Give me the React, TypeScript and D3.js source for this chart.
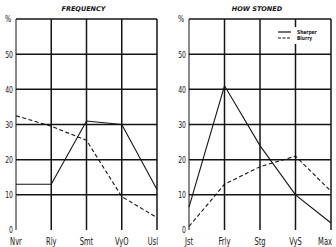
import React from "react";
import * as d3 from "d3";

const freqCats = ["Nvr", "Rly", "Smt", "VyO", "Usl"];
const freqSharper = [13, 13, 31, 30, 11.5];
const freqBlurry = [32.5, 29.5, 25.5, 9.5, 3.5];

const stonedCats = ["Jst", "Frly", "Stg", "VyS", "Max"];
const stonedSharper = [6.5, 41, 24, 10, 2];
const stonedBlurry = [1, 13, 18, 21, 11];

const yTicks = [0, 10, 20, 30, 40, 50];
const gridVals = [10, 20, 30, 40, 50, 60];

const FONT = "'DejaVu Sans Condensed', 'DejaVu Sans', sans-serif";
const INK = "#141414";

type PanelProps = {
  title: string;
  cats: string[];
  sharper: number[];
  blurry: number[];
  x0: number;
  x1: number;
  legend?: boolean;
};

const y = d3.scaleLinear().domain([0, 60]).range([230, 19]);

function NText({ x, yy, anchor, children, size = 10, sx = 0.72, weight = "normal", family = FONT }: any) {
  return (
    <text
      transform={`translate(${x},${yy}) scale(${sx},1)`}
      textAnchor={anchor}
      fontFamily={family}
      fontSize={size}
      fontWeight={weight}
      fill={INK}
    >
      {children}
    </text>
  );
}

function Panel({ title, cats, sharper, blurry, x0, x1, legend }: PanelProps) {
  const x = d3.scalePoint<string>().domain(cats).range([x0, x1]);
  const line = d3
    .line<number>()
    .x((_, i) => x(cats[i]) as number)
    .y((d) => y(d));
  const mid = (x0 + x1) / 2;
  return (
    <g>
      <text
        x={mid - 3}
        y={11}
        textAnchor="middle"
        fontFamily="'DejaVu Sans', sans-serif"
        fontSize={6.5}
        fontWeight="bold"
        fontStyle="italic"
        fill={INK}
      >
        {title}
      </text>
      {gridVals.map((v) => (
        <line
          key={"h" + v}
          x1={x0}
          x2={x1}
          y1={y(v)}
          y2={y(v)}
          stroke={INK}
          strokeWidth={1.5}
        />
      ))}
      {cats.map((c) => (
        <line
          key={"v" + c}
          x1={x(c)}
          x2={x(c)}
          y1={y(60)}
          y2={y(0)}
          stroke={INK}
          strokeWidth={c === cats[0] ? 1 : 1.5}
        />
      ))}
      {yTicks.map((v) => (
        <NText
          key={"t" + v}
          x={x0 - 3}
          yy={y(v) + (v === 0 ? 2.5 : 3.5)}
          anchor="end"
          size={9.5}
        >
          {v}
        </NText>
      ))}
      <NText x={x0 - 8} yy={y(60) + 3} anchor="middle" size={9} sx={0.8}>
        %
      </NText>
      {cats.map((c, i) => {
        const last = i === cats.length - 1;
        const cx = last ? Math.min(x1 + 1, 334) : Math.max(x(c) as number, 8);
        return (
          <NText
            key={"c" + c}
            x={cx}
            yy={245}
            anchor={last ? "end" : "middle"}
            size={11}
            sx={0.68}
          >
            {c}
          </NText>
        );
      })}
      <path d={line(sharper) || ""} fill="none" stroke={INK} strokeWidth={1.1} />
      <path
        d={line(blurry) || ""}
        fill="none"
        stroke={INK}
        strokeWidth={1.1}
        strokeDasharray="4,2.5"
      />
      {legend && (
        <g>
          <rect x={274} y={27} width={48} height={17} fill="white" />
          <line x1={278} x2={291} y1={32} y2={32} stroke={INK} strokeWidth={1.2} />
          <line
            x1={278}
            x2={291}
            y1={38}
            y2={38}
            stroke={INK}
            strokeWidth={1.2}
            strokeDasharray="3,1.5"
          />
          <NText x={297} yy={34} size={5.5} sx={0.8} weight="bold" family="'DejaVu Sans', sans-serif">
            Sharper
          </NText>
          <NText x={297} yy={40} size={5.5} sx={0.8} weight="bold" family="'DejaVu Sans', sans-serif">
            Blurry
          </NText>
        </g>
      )}
    </g>
  );
}

export default function App() {
  return (
    <svg
      width={336}
      height={247}
      style={{ position: "absolute", left: 0, top: 0, background: "white" }}
    >
      <rect width={336} height={247} fill="white" />
      <Panel
        title="FREQUENCY"
        cats={freqCats}
        sharper={freqSharper}
        blurry={freqBlurry}
        x0={16}
        x1={157}
      />
      <Panel
        title="HOW STONED"
        cats={stonedCats}
        sharper={stonedSharper}
        blurry={stonedBlurry}
        x0={189}
        x1={331}
        legend
      />
    </svg>
  );
}
